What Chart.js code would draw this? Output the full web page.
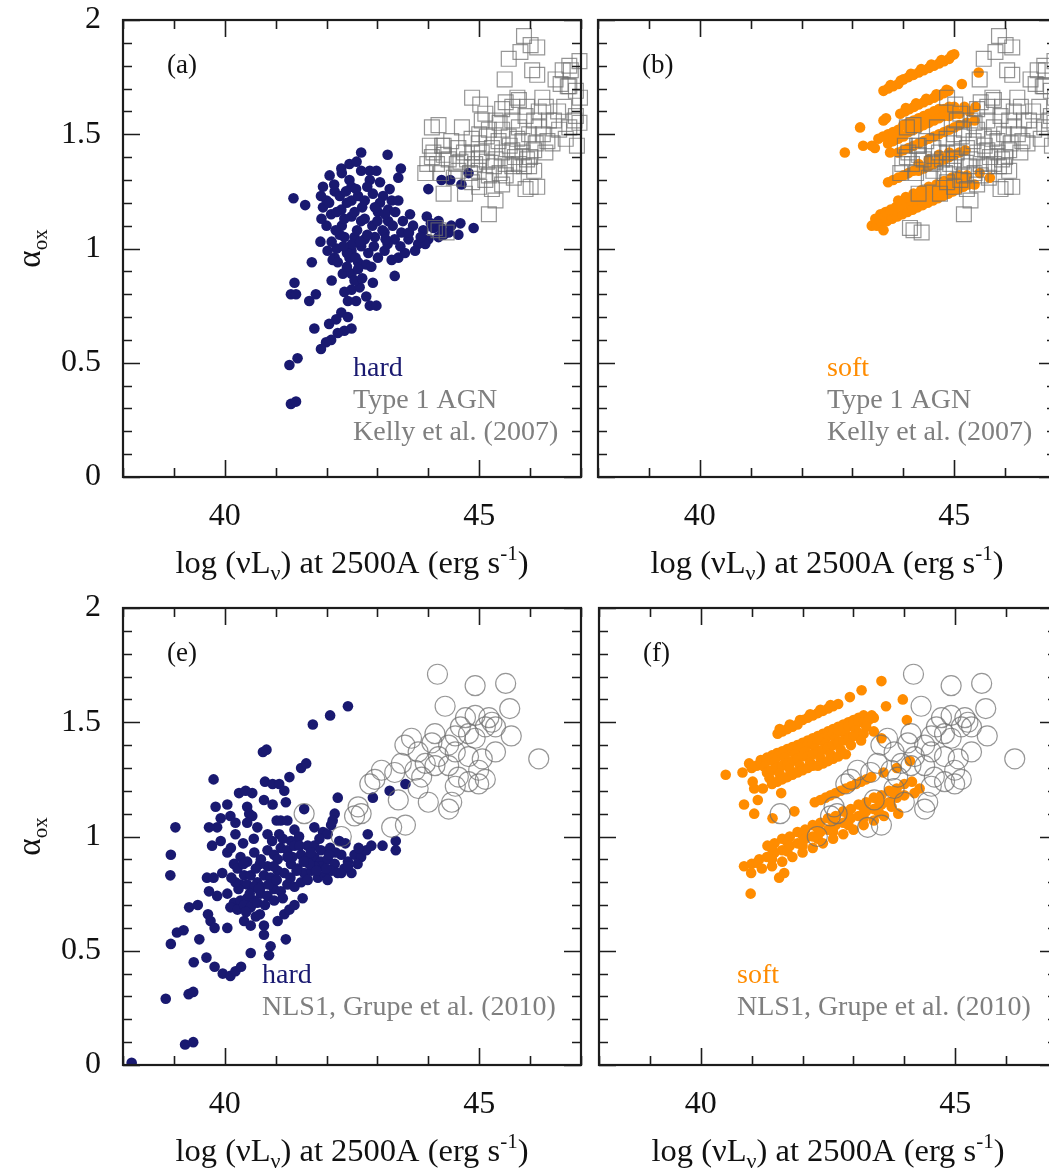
<!DOCTYPE html>
<html>
<head>
<meta charset="utf-8">
<script src="https://cdn.jsdelivr.net/npm/chart.js@4.4.1/dist/chart.umd.min.js"></script>
<style>
  html, body { margin: 0; padding: 0; background: #fff; }
  #fig { position: relative; width: 1049px; height: 1171px; overflow: hidden; background: #fff; }
  #fig canvas { position: absolute; }
</style>
</head>
<body>
<div id="fig">
  <canvas id="panelA" width="591" height="600" style="left:0px;top:0px"></canvas>
  <canvas id="panelB" width="591" height="600" style="left:475px;top:0px"></canvas>
  <canvas id="panelE" width="591" height="600" style="left:0px;top:588px"></canvas>
  <canvas id="panelF" width="591" height="600" style="left:476px;top:588px"></canvas>
</div>
<script>
// ── axis ticks ──
const xTicks = [40, 45];
const xMinorTicks = [38, 39, 40, 41, 42, 43, 44, 45, 46, 47];
const yTicks = [0, 0.5, 1, 1.5, 2];
const yMinorTicks = [0, 0.1, 0.2, 0.3, 0.4, 0.5, 0.6, 0.7, 0.8, 0.9, 1, 1.1, 1.2, 1.3, 1.4, 1.5, 1.6, 1.7, 1.8, 1.9, 2];

// ── (a) hard sample: [log L2500, alpha_ox] ──
const hardA = [
  [42.68,1.42],[43.20,1.41],[43.46,1.35],[43.41,1.31],[42.29,1.35],[42.45,1.37],[42.59,1.38],[42.06,1.32],
  [42.68,1.34],[42.85,1.34],[42.98,1.34],[42.85,1.30],[42.45,1.30],[42.49,1.27],[41.93,1.27],[41.35,1.22],
  [41.58,1.19],[41.89,1.23],[41.93,1.18],[42.00,1.21],[42.16,1.25],[42.26,1.23],[42.09,1.15],[42.29,1.17],
  [42.49,1.21],[42.62,1.23],[42.75,1.21],[42.91,1.24],[43.11,1.23],[43.24,1.26],[43.28,1.21],[43.41,1.21],
  [43.05,1.20],[43.21,1.17],[42.49,1.14],[42.68,1.12],[43.01,1.16],[43.21,1.12],[43.64,1.15],[43.97,1.14],
  [44.20,1.12],[44.63,1.11],[44.89,1.09],[44.59,1.06],[44.40,1.07],[44.20,1.05],[44.00,1.26],[44.26,1.30],
  [44.43,1.30],[44.65,1.28],[44.79,1.33],[44.00,1.04],[43.80,1.02],[43.61,1.04],[43.47,1.07],[43.34,1.04],
  [43.14,1.07],[42.95,1.05],[42.75,1.04],[42.55,1.05],[42.35,1.05],[42.26,1.06],[41.88,1.03],[42.49,0.99],
  [42.68,1.01],[42.82,0.98],[43.01,0.96],[43.14,0.99],[43.28,0.95],[43.41,0.96],[43.54,0.98],[43.74,0.99],
  [43.94,1.02],[42.16,0.96],[42.12,0.95],[42.22,0.94],[42.45,0.96],[42.62,0.94],[42.78,0.93],[41.71,0.94],
  [42.32,0.89],[42.49,0.89],[42.62,0.91],[42.88,0.92],[43.34,0.88],[41.37,0.85],[42.10,0.86],[41.30,0.80],
  [41.40,0.80],[41.66,0.77],[41.79,0.80],[42.49,0.82],[42.65,0.83],[42.91,0.85],[42.78,0.79],[42.85,0.75],
  [42.98,0.75],[42.42,0.77],[42.29,0.72],[42.19,0.69],[41.76,0.65],[42.49,0.65],[42.35,0.64],[42.22,0.63],
  [42.09,0.60],[41.99,0.59],[41.89,0.56],[41.43,0.52],[41.27,0.49],[41.30,0.32],[41.40,0.33],
  [42.30,1.10],[42.60,1.08],[42.90,1.10],[43.10,1.08],[42.70,1.18],[43.00,1.12],[42.40,1.20],[42.20,1.16],
  [42.80,1.06],[43.30,1.10],[43.50,1.12],[43.70,1.10],[43.90,1.08],[44.10,1.09],[44.30,1.06],[43.20,1.02],
  [42.50,1.02],[42.40,0.92],[42.20,1.00],[42.00,1.10],[41.90,1.13],[42.15,1.28],[42.30,1.33],[42.05,1.20],
  [42.55,1.16],[42.75,1.13],[42.95,1.18],[43.15,1.15],[43.35,1.16],[42.35,1.13],[42.58,1.26],[42.80,1.27],
  [43.05,1.29],[42.38,1.25],[42.66,1.03],[42.93,1.01],[43.16,1.04],[43.45,1.01],[43.62,1.07],[43.85,1.05],
  [44.05,1.11],[44.25,1.09],[44.45,1.10],[42.40,0.98],[42.57,0.96],[42.33,1.01],[42.18,1.08],[42.10,1.03],
  [42.02,0.99],[42.55,0.86],[42.70,0.87],[42.35,0.81],[42.58,0.77],[42.05,0.67],[42.42,0.70]
];

// ── (b) soft sample ──
const softB = [
  [43.61,1.69],[43.70,1.70],[43.80,1.71],[43.90,1.72],[44.00,1.74],[44.10,1.75],[44.20,1.76],[44.30,1.77],
  [44.40,1.78],[44.50,1.79],[44.60,1.80],[44.70,1.81],[44.80,1.82],[44.90,1.83],[45.00,1.85],
  [43.75,1.715],[43.95,1.735],[44.15,1.765],[44.35,1.785],[44.55,1.805],[44.75,1.825],[44.95,1.845],
  [43.94,1.59],[44.03,1.60],[44.12,1.61],[44.21,1.62],[44.30,1.63],[44.40,1.64],[44.50,1.65],[44.60,1.66],
  [44.70,1.67],[44.80,1.68],[44.89,1.69],[43.61,1.56],[43.66,1.57],[45.15,1.72],[45.48,1.77],
  [44.05,1.615],[44.25,1.635],[44.45,1.655],[44.65,1.675],[44.85,1.695],
  [43.51,1.48],[43.60,1.49],[43.70,1.50],[43.80,1.51],[43.90,1.52],[44.00,1.54],[44.10,1.55],[44.20,1.56],
  [44.30,1.57],[44.40,1.58],[44.50,1.59],[44.60,1.60],[44.70,1.61],[44.80,1.61],[44.90,1.62],[45.00,1.62],
  [45.20,1.62],[45.42,1.62],
  [43.70,1.46],[43.80,1.47],[43.90,1.48],[44.00,1.49],[44.10,1.51],[44.20,1.52],[44.30,1.53],[44.40,1.54],
  [44.50,1.55],[44.60,1.56],[44.70,1.57],[44.80,1.58],[44.90,1.58],[45.00,1.59],[45.10,1.59],[45.30,1.60],
  [43.90,1.42],[44.00,1.43],[44.10,1.44],[44.20,1.45],[44.30,1.46],[44.40,1.47],[44.50,1.48],[44.60,1.49],
  [44.70,1.50],[44.80,1.51],[44.90,1.52],[45.00,1.53],[45.10,1.54],[45.25,1.55],[45.40,1.56],
  [43.15,1.53],[42.85,1.42],[43.21,1.45],[43.38,1.45],[43.44,1.44],[43.74,1.42],
  [43.70,1.29],[43.80,1.30],[43.90,1.31],[44.00,1.32],[44.10,1.33],[44.20,1.34],[44.30,1.34],[44.40,1.35],
  [44.50,1.36],[44.60,1.37],[44.70,1.38],[44.80,1.39],[44.90,1.40],[45.00,1.41],[45.10,1.42],[45.22,1.43],
  [44.30,1.37],[44.50,1.39],[44.70,1.41],[44.90,1.42],[45.50,1.33],[45.70,1.31],
  [43.38,1.10],[43.48,1.10],[43.58,1.11],[43.68,1.12],[43.78,1.13],[43.88,1.14],[43.98,1.15],[44.08,1.16],
  [44.18,1.17],[44.28,1.18],[44.38,1.19],[44.48,1.20],[44.58,1.21],[44.68,1.22],[44.78,1.23],[44.88,1.24],
  [44.98,1.25],[45.08,1.26],[45.18,1.27],[45.28,1.28],[45.40,1.28],[43.61,1.08],
  [43.45,1.13],[43.55,1.15],[43.65,1.16],[43.75,1.17],[43.85,1.18],[43.95,1.19],[44.05,1.20],[44.15,1.21],
  [44.25,1.22],[44.35,1.23],[44.45,1.24],[44.55,1.25],[44.65,1.26],[44.75,1.27],[44.85,1.28],[44.95,1.29],
  [45.05,1.30],[45.15,1.31],[45.25,1.32],
  [43.90,1.21],[44.05,1.225],[44.20,1.24],[44.35,1.255],[44.50,1.27],[44.65,1.28],[44.80,1.295],[44.95,1.31],
  [45.10,1.32]
];

// ── Type 1 AGN, Kelly et al. (2007) ──
const kelly07 = [
  [45.88,1.93],[46.01,1.89],[46.14,1.88],[45.81,1.86],[45.58,1.83],[46.04,1.78],[46.14,1.76],[45.50,1.74],
  [46.97,1.82],[46.77,1.80],[46.64,1.78],[46.50,1.74],[46.60,1.72],[46.77,1.71],[46.90,1.69],[46.98,1.66],
  [44.86,1.66],[45.02,1.63],[45.12,1.59],[45.75,1.66],[45.52,1.64],[45.65,1.62],[45.45,1.61],[45.94,1.62],
  [46.24,1.66],[46.31,1.62],[46.17,1.60],[45.32,1.56],[45.65,1.56],[45.91,1.58],[46.08,1.56],[46.37,1.56],
  [46.57,1.52],[46.97,1.55],[46.87,1.56],[44.07,1.53],[44.20,1.54],[44.66,1.53],[45.19,1.52],[45.45,1.52],
  [45.78,1.53],[46.17,1.53],[45.15,1.49],[45.38,1.47],[45.58,1.49],[45.75,1.48],[45.98,1.50],[46.11,1.46],
  [46.44,1.46],[44.03,1.45],[44.30,1.45],[44.59,1.44],[44.99,1.46],[44.86,1.42],[45.05,1.42],[45.25,1.44],
  [45.45,1.42],[45.65,1.43],[45.85,1.42],[45.94,1.39],[44.07,1.40],[44.17,1.37],[44.40,1.39],[44.63,1.38],
  [44.76,1.39],[44.92,1.37],[45.15,1.38],[45.32,1.39],[45.52,1.37],[45.65,1.36],[45.78,1.37],[45.98,1.36],
  [46.08,1.34],[43.94,1.33],[44.59,1.34],[44.99,1.34],[45.19,1.32],[45.52,1.32],[44.86,1.29],[45.12,1.30],
  [44.30,1.24],[44.72,1.24],[45.25,1.26],[45.32,1.21],[45.91,1.26],[46.14,1.27],[45.19,1.15],[46.77,1.53],
  [46.90,1.58],[44.30,1.41],[46.01,1.27],[44.20,1.08],[44.13,1.09],[44.36,1.07],[44.10,1.42],[44.27,1.45],
  [44.56,1.37],[44.99,1.39],[45.29,1.36],[45.68,1.31],[45.88,1.36],[46.08,1.43],[46.34,1.47],[46.47,1.56],
  [46.67,1.62],[46.74,1.71],[46.80,1.78],[45.78,1.65],
  [44.45,1.47],[44.70,1.42],[45.00,1.50],[45.40,1.55],[45.60,1.45],[45.85,1.47],[46.25,1.50],[46.55,1.60],
  [44.50,1.31],[44.82,1.33],[45.40,1.33],[45.70,1.40],[46.00,1.40],[46.30,1.42],[45.05,1.56],[44.85,1.48],
  [44.25,1.33],[43.98,1.37],[45.00,1.27],[45.45,1.28],[46.70,1.48],[46.92,1.45]
];

// ── (e) hard sample ──
const hardE = [
  [38.17,0.01],[39.22,0.09],[39.38,0.10],[38.84,0.29],[39.29,0.31],[39.38,0.32],[39.39,0.45],[39.64,0.47],
  [39.80,0.43],[39.96,0.40],[40.11,0.39],[40.21,0.41],[40.32,0.43],[38.94,0.53],[39.06,0.58],[39.19,0.59],
  [39.50,0.55],[39.30,0.69],[39.47,0.70],[39.67,0.66],[39.72,0.63],[39.80,0.60],[40.05,0.60],[39.69,0.76],
  [39.85,0.74],[39.65,0.82],[39.78,0.82],[39.95,0.84],[38.94,0.92],[38.93,0.83],[39.03,1.04],[39.78,1.25],
  [39.82,1.13],[39.92,1.08],[39.85,1.04],[39.75,0.96],[39.69,1.04],[40.05,1.14],[40.11,1.09],[40.21,1.06],
  [40.21,1.01],[40.05,0.93],[39.92,0.98],[40.28,1.19],[40.41,1.20],[40.54,1.19],[40.44,1.13],[40.48,1.10],
  [40.54,1.09],[40.44,1.06],[40.64,1.04],[40.77,1.16],[40.94,1.14],[40.79,1.24],[40.94,1.23],[41.07,1.23],
  [41.17,1.20],[41.20,1.15],[41.27,1.26],[41.50,1.30],[41.60,1.32],[41.56,1.12],[41.02,1.07],[41.10,1.07],
  [41.23,1.07],[40.84,1.01],[41.07,1.01],[41.37,1.03],[41.46,1.00],[41.30,0.98],[41.63,0.96],[41.76,0.96],
  [41.89,0.94],[41.76,1.04],[41.93,1.02],[42.16,1.10],[42.12,1.07],[42.09,1.05],[42.22,1.17],[42.25,0.98],
  [42.02,1.01],
  [40.18,0.88],[40.31,0.91],[40.44,0.89],[40.58,0.93],[40.71,0.90],[40.84,0.94],[40.97,0.92],[41.10,0.95],
  [41.23,0.94],[41.37,0.96],[41.50,0.92],[41.63,0.90],[41.76,0.91],[41.89,0.89],[42.02,0.90],[42.16,0.88],
  [42.29,0.92],[42.42,0.89],[42.55,0.92],[42.68,0.91],[42.78,0.94],
  [40.25,0.86],[40.38,0.83],[40.51,0.83],[40.64,0.80],[40.77,0.83],[40.90,0.82],[41.04,0.85],[41.17,0.84],
  [41.30,0.88],[41.43,0.86],[41.56,0.84],[41.70,0.85],[41.83,0.82],[41.96,0.83],[42.09,0.85],[42.22,0.84],
  [42.35,0.86],[42.49,0.84],
  [40.05,0.75],[40.18,0.71],[40.31,0.72],[40.44,0.73],[40.58,0.72],[40.71,0.75],[40.84,0.74],[40.97,0.77],
  [41.10,0.76],[41.23,0.79],[41.37,0.78],[41.50,0.80],
  [40.11,0.69],[40.25,0.68],[40.38,0.70],[40.51,0.69],[40.64,0.71],
  [40.38,0.63],[40.51,0.61],[40.61,0.65],[40.77,0.61],[41.04,0.63],[40.77,0.57],[41.17,0.66],[41.27,0.68],
  [41.37,0.70],[41.53,0.73],[40.90,0.52],[40.87,0.48],[41.20,0.55],[40.51,0.49],[41.04,0.90],[40.84,0.87],
  [40.31,0.79],[40.44,0.79],[40.58,0.78],[40.71,0.78],[41.89,0.87],[42.02,0.81],[42.29,0.84],[41.63,0.81],
  [41.76,0.87],
  [40.12,0.95],[40.36,0.97],[40.57,0.99],[40.69,0.88],[40.93,0.98],[41.14,0.99],[41.33,0.91],[41.47,0.96],
  [41.69,0.93],[41.86,0.99],[42.07,0.95],[42.37,0.97],[42.61,0.88],[42.88,0.96],[40.27,0.77],[40.49,0.75],
  [40.66,0.77],[40.86,0.79],[41.02,0.81],[41.29,0.82],[41.41,0.85],[41.66,0.88],[41.99,0.86],[42.18,0.93],
  [40.79,0.70],[40.97,0.72],[41.14,0.73],[40.42,0.67],[40.69,0.66],[40.21,0.80],[40.13,0.82],[41.55,0.89],
  [41.23,0.91],[40.96,0.87],[40.61,0.86],[40.37,0.88],[42.42,0.87],[42.63,0.95],[42.05,0.92],[41.80,0.85],
  [42.81,1.01],[43.10,0.96],[43.36,0.98],[43.36,0.94],[42.91,1.17],[43.24,1.20],[43.55,1.23],
  [42.42,1.57],[42.07,1.53],[41.73,1.49],[40.75,1.37],[40.82,1.38]
];

// ── NLS1, Grupe et al. (2010) ──
const grupe10 = [
  [44.18,1.71],[44.92,1.66],[45.52,1.67],[44.33,1.57],[45.60,1.56],[46.17,1.34],[45.63,1.44],[45.32,1.37],
  [45.19,1.52],[45.25,1.50],[44.73,1.52],[44.63,1.48],[44.79,1.45],[44.92,1.43],[44.53,1.44],[44.40,1.40],
  [44.13,1.45],[44.07,1.41],[43.67,1.43],[43.54,1.40],[43.80,1.37],[44.20,1.35],[44.53,1.37],[44.79,1.35],
  [45.06,1.34],[44.99,1.29],[44.79,1.24],[44.99,1.23],[44.59,1.26],[44.40,1.31],[44.13,1.31],[43.94,1.32],
  [43.74,1.29],[43.47,1.32],[43.34,1.28],[43.87,1.26],[44.00,1.15],[44.46,1.15],[44.40,1.12],[43.41,1.16],
  [43.28,1.04],[43.55,1.05],[43.08,1.29],[42.95,1.25],[42.85,1.23],[42.62,1.13],[42.68,1.10],[42.55,1.09],
  [42.29,1.00],[41.56,1.10],[45.12,1.25],[44.53,1.22],[43.80,1.21],[45.32,1.48],[45.12,1.48],[44.92,1.53]
];

// ── (f) soft sample ──
const softF = [
  [41.51,1.45],[41.60,1.46],[41.70,1.47],[41.80,1.48],[41.90,1.49],[42.00,1.51],[42.10,1.52],[42.20,1.53],
  [42.30,1.54],[42.40,1.55],[42.50,1.56],[42.60,1.57],[42.70,1.58],[42.93,1.61],[43.16,1.64],[43.55,1.68],
  [43.64,1.57],[43.97,1.60],[44.05,1.51],
  [41.55,1.47],[41.75,1.49],[41.95,1.51],[42.15,1.535],[42.35,1.555],[42.55,1.575],
  [41.18,1.335],[41.30,1.345],[41.40,1.355],[41.50,1.365],[41.60,1.373],[41.70,1.383],[41.80,1.392],[41.90,1.40],
  [42.00,1.41],[42.10,1.42],[42.20,1.43],[42.30,1.44],[42.40,1.45],[42.50,1.46],[42.60,1.47],[42.70,1.48],
  [42.80,1.49],[42.90,1.50],[43.00,1.51],[43.10,1.52],[43.20,1.53],[43.36,1.53],
  [41.00,1.30],[41.10,1.31],[41.20,1.32],[41.30,1.33],[41.40,1.34],[41.50,1.35],[41.60,1.36],[41.70,1.37],
  [41.80,1.38],[41.90,1.38],[42.00,1.39],[42.10,1.40],[42.20,1.41],[42.30,1.42],[42.40,1.43],[42.50,1.44],
  [42.60,1.45],[42.70,1.46],[42.80,1.47],[42.90,1.48],[43.00,1.49],[43.10,1.50],[43.20,1.50],[43.30,1.51],
  [43.40,1.52],
  [41.25,1.305],[41.45,1.325],[41.65,1.345],[41.85,1.36],[42.05,1.37],[42.25,1.385],[42.45,1.405],[42.65,1.425],
  [42.85,1.445],[43.05,1.465],[43.25,1.48],
  [41.30,1.28],[41.40,1.29],[41.50,1.30],[41.60,1.31],[41.70,1.32],[41.80,1.33],[41.90,1.34],[42.00,1.35],
  [42.10,1.35],[42.20,1.36],[42.30,1.37],[42.40,1.38],[42.50,1.39],[42.60,1.40],[42.70,1.41],[42.80,1.42],
  [42.90,1.43],[43.00,1.44],[43.10,1.45],[43.20,1.45],[43.40,1.46],[43.55,1.43],
  [41.35,1.255],[41.55,1.275],[41.75,1.295],[41.95,1.31],[42.15,1.325],[42.35,1.345],[42.55,1.36],[42.75,1.38],
  [42.95,1.40],[43.15,1.42],
  [41.05,1.21],[41.22,1.21],[41.40,1.23],[41.50,1.24],[41.60,1.25],[41.70,1.26],[41.80,1.27],[41.90,1.28],
  [42.00,1.29],[42.10,1.30],[42.20,1.31],[42.30,1.31],[42.40,1.32],[42.50,1.33],[42.60,1.34],[42.70,1.35],
  [42.85,1.36],
  [40.49,1.27],[40.82,1.28],[40.95,1.32],[41.02,1.24],[40.85,1.14],[41.05,1.10],[41.12,1.16],[41.41,1.08],
  [41.58,1.19],[41.84,1.11],
  [42.24,1.15],[42.35,1.16],[42.45,1.17],[42.55,1.18],[42.65,1.19],[42.75,1.20],[42.85,1.21],[42.95,1.22],
  [43.05,1.23],[43.15,1.24],[43.25,1.25],[43.35,1.26],[43.59,1.28],[43.85,1.30],[44.11,1.33],
  [41.31,0.96],[41.45,0.97],[41.60,0.99],[41.75,1.00],[41.90,1.02],[42.05,1.03],[42.20,1.05],[42.35,1.06],
  [42.50,1.08],[42.65,1.09],[42.80,1.11],[42.95,1.12],[43.10,1.14],[43.25,1.15],[43.40,1.17],[43.55,1.18],
  [43.70,1.20],[43.85,1.21],[44.00,1.23],[44.15,1.24],[44.30,1.21],
  [41.40,0.945],[41.70,0.975],[42.00,1.005],[42.30,1.035],[42.60,1.065],[42.90,1.095],[43.20,1.125],[43.50,1.155],
  [43.80,1.185],
  [40.85,0.87],[41.00,0.88],[41.15,0.90],[41.30,0.91],[41.45,0.93],[41.60,0.94],[41.75,0.96],[41.90,0.97],
  [42.05,0.99],[42.20,1.00],[42.35,1.02],[42.50,1.03],[42.65,1.05],[42.80,1.06],[42.95,1.08],[43.10,1.09],
  [43.25,1.11],[43.40,1.12],[43.55,1.14],[43.70,1.15],[43.85,1.17],[44.00,1.18],[44.20,1.19],
  [41.10,0.885],[41.40,0.90],[41.70,0.935],[42.00,0.96],[42.30,0.99],[42.60,1.02],[42.90,1.05],[43.20,1.08],
  [43.50,1.105],[43.75,1.13],
  [40.99,0.84],[41.20,0.86],[41.40,0.87],[41.60,0.89],[41.80,0.91],[42.00,0.93],[42.20,0.95],[42.40,0.97],
  [42.60,0.99],[42.80,1.01],[43.00,1.03],[43.20,1.05],[43.40,1.07],[43.60,1.09],[43.88,1.10],
  [40.98,0.75],[41.54,0.82],[41.64,0.84]
];

const FONT = '"Liberation Serif", "Times New Roman", serif';
const NAVY = '#191970';
const ORANGE = '#ff8c00';
const GREY = '#7f7f7f';

// title pieces: [text, font size, baseline shift]
const xTitle = [['log (\u03bdL', 32.5, 0], ['\u03bd', 22, 7], [') at 2500A (erg s', 32.5, 0], ['-1', 21, -13], [')', 32.5, 0]];
const yTitle = [['\u03b1', 33, 0], ['ox', 21, 7]];

const pts = list => list.map(([x, y]) => ({ x, y }));

function drawRich(ctx, parts, x, y) {
  let w = 0;
  parts.forEach(([t, s]) => { ctx.font = s + 'px ' + FONT; w += ctx.measureText(t).width; });
  let cx = x - w / 2;
  parts.forEach(([t, s, d]) => {
    ctx.font = s + 'px ' + FONT;
    ctx.fillText(t, cx, y + d);
    cx += ctx.measureText(t).width;
  });
}

// box, inward ticks, titles and in-panel notes
const framePlugin = {
  id: 'frame',
  afterDraw(chart, args, o) {
    const { ctx, chartArea: a } = chart;
    const sx = chart.scales.x, sy = chart.scales.y;
    ctx.save();
    ctx.strokeStyle = '#1c1c1c';
    ctx.lineWidth = 1.6;
    ctx.beginPath();
    xMinorTicks.forEach(v => {
      const px = Math.round(sx.getPixelForValue(v)) + 0.5;
      const len = xTicks.includes(v) ? 17 : 9;
      ctx.moveTo(px, a.top); ctx.lineTo(px, a.top + len);
      ctx.moveTo(px, a.bottom); ctx.lineTo(px, a.bottom - len);
    });
    yMinorTicks.forEach(v => {
      const py = Math.round(sy.getPixelForValue(v)) + 0.5;
      const len = yTicks.includes(v) ? 17 : 9;
      ctx.moveTo(a.left, py); ctx.lineTo(a.left + len, py);
      ctx.moveTo(a.right, py); ctx.lineTo(a.right - len, py);
    });
    ctx.stroke();
    ctx.lineWidth = 2.2;
    ctx.strokeRect(a.left, a.top, a.right - a.left, a.bottom - a.top);

    ctx.fillStyle = '#111';
    ctx.textAlign = 'left';
    ctx.textBaseline = 'alphabetic';
    ctx.font = '27px ' + FONT;
    ctx.fillText(o.tag, a.left + 44, a.top + 53);
    o.notes.forEach(([t, c], i) => {
      ctx.fillStyle = c;
      ctx.font = '28px ' + FONT;
      ctx.fillText(t, a.left + o.noteX, a.top + o.noteY + i * 32);
    });

    ctx.fillStyle = '#111';
    drawRich(ctx, xTitle, (a.left + a.right) / 2, a.bottom + 96);
    if (o.yTitle) {
      ctx.translate(40, (a.top + a.bottom) / 2);
      ctx.rotate(-Math.PI / 2);
      drawRich(ctx, yTitle, 0, 0);
    }
    ctx.restore();
  }
};

function greySet(list, style, r) {
  return {
    data: pts(list), pointStyle: style, pointRadius: r,
    backgroundColor: 'rgba(0,0,0,0)', borderColor: 'rgba(110,110,110,0.72)', borderWidth: 1.2,
    clip: false, order: 0
  };
}
function dotSet(list, color) {
  return {
    data: pts(list), pointStyle: 'circle', pointRadius: 5.3,
    backgroundColor: color, borderColor: color, borderWidth: 0, order: 1
  };
}

function panel(id, datasets, note) {
  return new Chart(document.getElementById(id), {
    type: 'scatter',
    data: { datasets },
    options: {
      responsive: false,
      animation: false,
      events: [],
      layout: { autoPadding: false, padding: { left: 0, top: 20, right: 10, bottom: 0 } },
      plugins: { legend: { display: false }, tooltip: { enabled: false }, frame: note },
      scales: {
        x: {
          type: 'linear', min: 38, max: 47,
          grid: { display: false, drawTicks: false }, border: { display: false },
          afterBuildTicks: s => { s.ticks = xTicks.map(v => ({ value: v })); },
          afterFit: s => { s.height = 123; s.paddingLeft = 0; s.paddingRight = 0; },
          ticks: { padding: 20, color: '#111', maxRotation: 0, autoSkip: false,
                   font: { family: FONT, size: 32 }, callback: v => String(v) }
        },
        y: {
          type: 'linear', min: 0, max: 2,
          grid: { display: false, drawTicks: false }, border: { display: false },
          afterBuildTicks: s => { s.ticks = yTicks.map(v => ({ value: v })); },
          afterFit: s => { s.width = 123; s.paddingTop = 0; s.paddingBottom = 0; },
          ticks: { display: note.yTitle, padding: 22, color: '#111', autoSkip: false,
                   font: { family: FONT, size: 32 }, callback: v => String(v) }
        }
      }
    },
    plugins: [framePlugin]
  });
}

panel('panelA', [greySet(kelly07, 'rect', 10.5), dotSet(hardA, NAVY)], {
  tag: '(a)', yTitle: true, noteX: 230, noteY: 356,
  notes: [['hard', NAVY], ['Type 1 AGN', GREY], ['Kelly et al. (2007)', GREY]]
});
panel('panelB', [greySet(kelly07, 'rect', 10.5), dotSet(softB, ORANGE)], {
  tag: '(b)', yTitle: false, noteX: 229, noteY: 356,
  notes: [['soft', ORANGE], ['Type 1 AGN', GREY], ['Kelly et al. (2007)', GREY]]
});
panel('panelE', [greySet(grupe10, 'circle', 10), dotSet(hardE, NAVY)], {
  tag: '(e)', yTitle: true, noteX: 139, noteY: 375,
  notes: [['hard', NAVY], ['NLS1, Grupe et al. (2010)', GREY]]
});
panel('panelF', [greySet(grupe10, 'circle', 10), dotSet(softF, ORANGE)], {
  tag: '(f)', yTitle: false, noteX: 138, noteY: 375,
  notes: [['soft', ORANGE], ['NLS1, Grupe et al. (2010)', GREY]]
});
</script>
</body>
</html>
